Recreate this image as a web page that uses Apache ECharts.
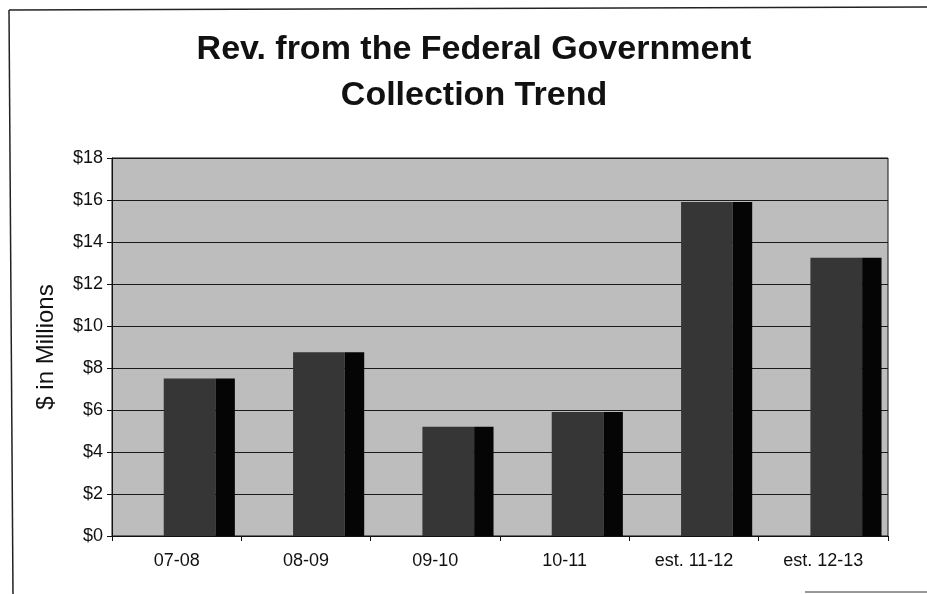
<!DOCTYPE html>
<html>
<head>
<meta charset="utf-8">
<title>Rev. from the Federal Government - Collection Trend</title>
<script src="https://cdn.jsdelivr.net/npm/echarts@6/dist/echarts.min.js"></script>
<style>
  html, body { margin: 0; padding: 0; background: #ffffff; }
  #chart { width: 927px; height: 594px; }
</style>
</head>
<body>
<div id="chart"></div>
<script>
// Fiscal years and federal revenue collected ($ millions)
const fiscalYears = ['07-08', '08-09', '09-10', '10-11', 'est. 11-12', 'est. 12-13'];
const revenueMillions = [7.5, 8.75, 5.2, 5.9, 15.9, 13.25];
const yTicks = { min: 0, max: 18, step: 2 };

const FONT = '"Liberation Sans", Arial, sans-serif';

const chart = echarts.init(document.getElementById('chart'), null, { renderer: 'canvas' });

// Column with a dark front face and a black side face, placed inside its category band
function renderColumn(params, api) {
  const idx = api.value(0);
  const val = api.value(1);
  const base = api.coord([idx, 0]);
  const top = api.coord([idx, val]);
  const band = api.size([1, 0])[0];
  const left = base[0] - band * 0.10;
  const frontW = band * 0.40;
  const sideW = band * 0.15;
  const h = base[1] - top[1];
  return {
    type: 'group',
    children: [
      { type: 'rect', shape: { x: left, y: top[1], width: frontW, height: h },
        style: { fill: '#363636' } },
      { type: 'rect', shape: { x: left + frontW, y: top[1], width: sideW, height: h },
        style: { fill: '#050505' } }
    ]
  };
}

const option = {
  backgroundColor: '#ffffff',
  animation: false,
  title: {
    text: 'Rev. from the Federal Government\nCollection Trend',
    left: 469,
    top: 22,
    textAlign: 'center',
    textStyle: {
      fontFamily: FONT,
      fontWeight: 'bold',
      fontSize: 34,
      lineHeight: 46,
      color: '#111111'
    }
  },
  grid: {
    left: 112,
    right: 39,
    top: 158,
    bottom: 58,
    show: true,
    backgroundColor: '#bdbdbd',
    borderColor: '#111111',
    borderWidth: 1
  },
  xAxis: {
    type: 'category',
    data: fiscalYears,
    boundaryGap: true,
    axisLine: { lineStyle: { color: '#111111', width: 1 } },
    axisTick: { show: true, length: 5, lineStyle: { color: '#111111' } },
    axisLabel: { fontFamily: FONT, fontSize: 18, color: '#111111', margin: 16 },
    splitLine: { show: false }
  },
  yAxis: {
    type: 'value',
    min: yTicks.min,
    max: yTicks.max,
    interval: yTicks.step,
    name: '$ in Millions',
    nameLocation: 'middle',
    nameGap: 54,
    nameTextStyle: { fontFamily: FONT, fontSize: 24, color: '#111111' },
    axisLine: { show: true, lineStyle: { color: '#111111', width: 1 } },
    axisTick: { show: true, length: 5, lineStyle: { color: '#111111' } },
    axisLabel: {
      fontFamily: FONT, fontSize: 18, color: '#111111', margin: 9,
      formatter: v => '$' + v
    },
    splitLine: { show: true, lineStyle: { color: '#1a1a1a', width: 1 } }
  },
  series: [{
    type: 'custom',
    renderItem: renderColumn,
    encode: { x: 0, y: 1 },
    data: revenueMillions.map((v, i) => [i, v]),
    z: 3
  }],
  graphic: [
    // page frame lines around the chart
    { type: 'line', shape: { x1: 9, y1: 10, x2: 927, y2: 7 }, style: { stroke: '#222', lineWidth: 1.5 } },
    { type: 'line', shape: { x1: 9, y1: 10, x2: 13, y2: 594 }, style: { stroke: '#222', lineWidth: 1.5 } },
    { type: 'line', shape: { x1: 805, y1: 592, x2: 927, y2: 592 }, style: { stroke: '#333', lineWidth: 1 } }
  ]
};

chart.setOption(option);
</script>
</body>
</html>
